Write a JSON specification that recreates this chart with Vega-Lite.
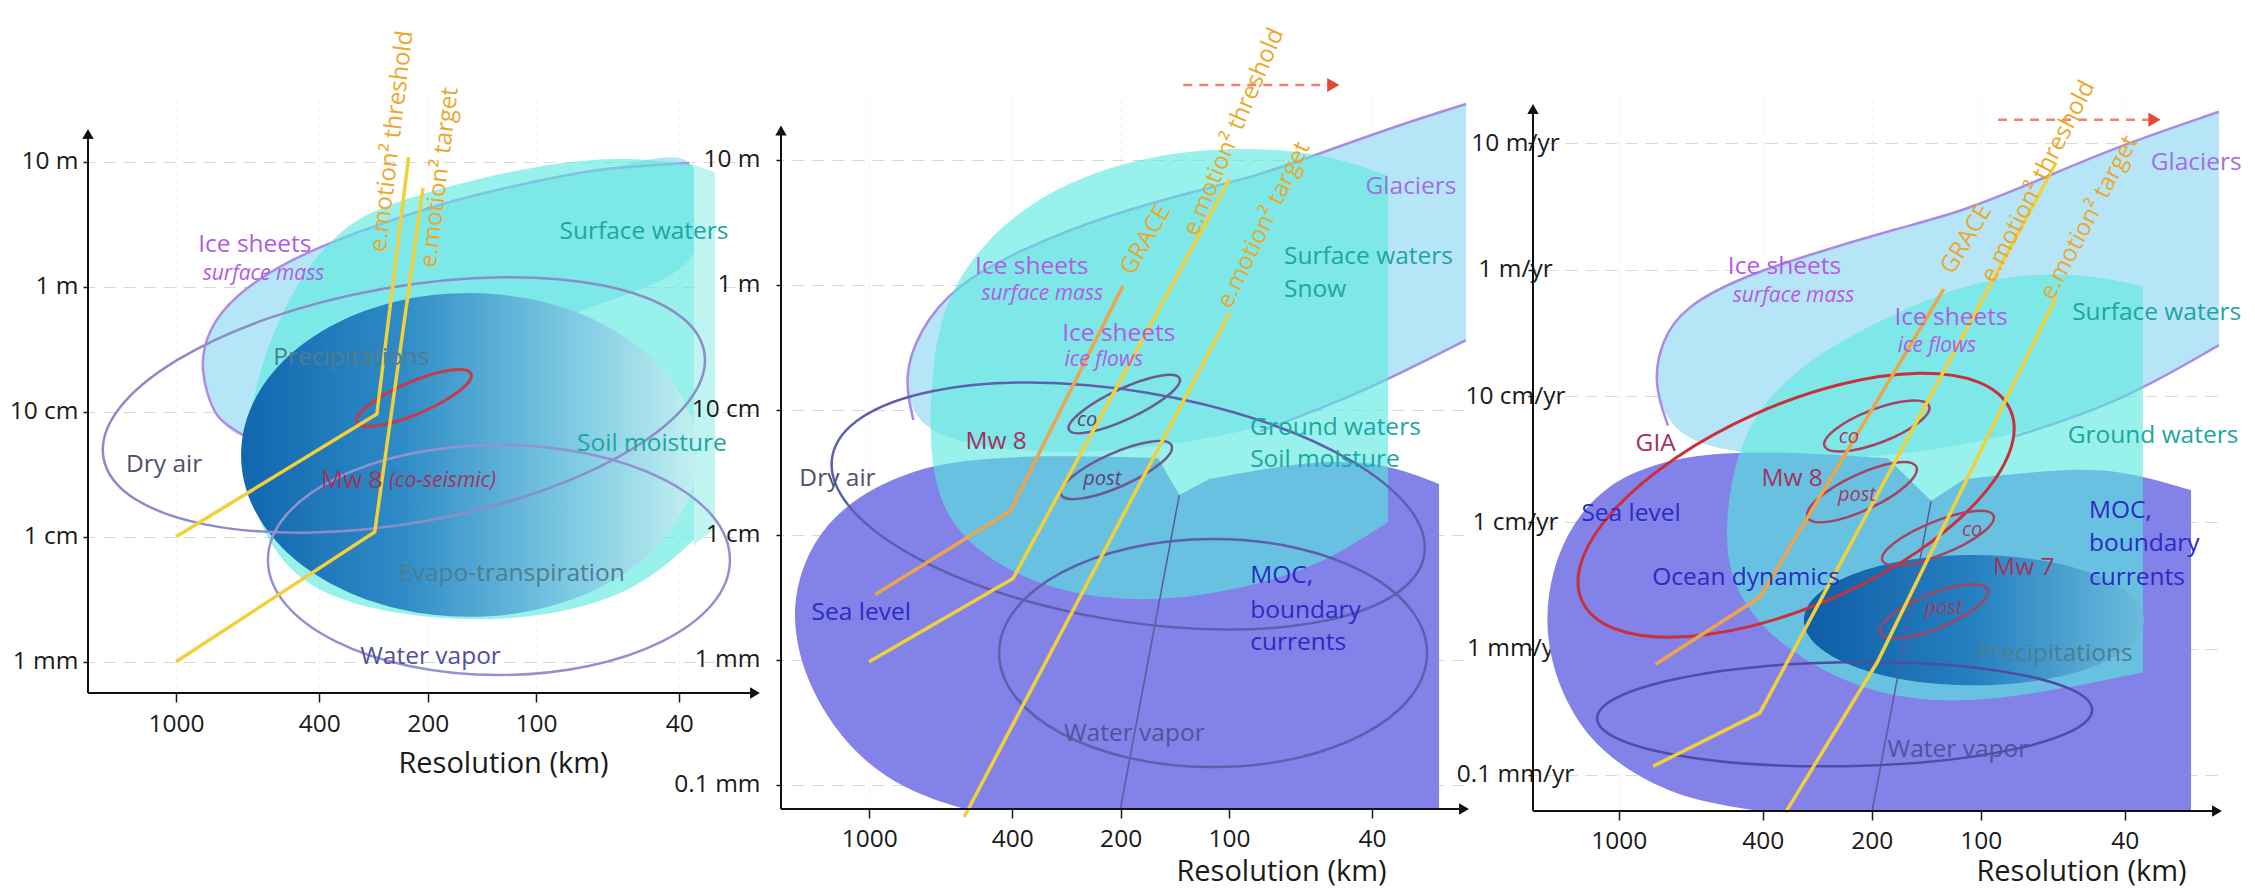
{
"$schema":"https://vega.github.io/schema/vega-lite/v6.json",
"background":"white",
"padding":{"left":9,"top":24,"right":2,"bottom":2},
"config":{
 "view":{"stroke":null},
 "font":"Open Sans",
 "axis":{"labelFont":"Open Sans","titleFont":"Open Sans","labelFontSize":24.5,"titleFontSize":29,"titleFontWeight":"normal","labelColor":"#1a1a1a","titleColor":"#1a1a1a","tickColor":"#1a1a1a","tickWidth":1.5,"domain":false,"labelOverlap":false,"grid":true,"gridColor":"#d9d9d9","gridDash":[12,8],"gridWidth":1.2},
 "text":{"font":"Open Sans"}
},
"datasets":{
 "poly":[
  {"s":"p1ice","i":0,"x":2.797,"y":-1.21,"o":"a"},
  {"s":"p1ice","i":1,"x":2.886,"y":-1.026,"o":"a"},
  {"s":"p1ice","i":2,"x":2.925,"y":-0.666,"o":"a"},
  {"s":"p1ice","i":3,"x":2.903,"y":-0.346,"o":"a"},
  {"s":"p1ice","i":4,"x":2.825,"y":-0.066,"o":"a"},
  {"s":"p1ice","i":5,"x":2.686,"y":0.198,"o":"a"},
  {"s":"p1ice","i":6,"x":2.492,"y":0.438,"o":"a"},
  {"s":"p1ice","i":7,"x":2.269,"y":0.654,"o":"a"},
  {"s":"p1ice","i":8,"x":2.047,"y":0.814,"o":"a"},
  {"s":"p1ice","i":9,"x":1.825,"y":0.934,"o":"a"},
  {"s":"p1ice","i":10,"x":1.575,"y":0.99,"o":"a"},
  {"s":"p1ice","i":11,"x":1.575,"y":0.214,"o":""},
  {"s":"p1ice","i":12,"x":1.936,"y":-0.266,"o":""},
  {"s":"p1ice","i":13,"x":2.325,"y":-0.746,"o":""},
  {"s":"p1ice","i":14,"x":2.658,"y":-1.106,"o":""},
  {"s":"p1cyan","i":0,"x":2.55,"y":0.486},
  {"s":"p1cyan","i":1,"x":2.381,"y":0.694},
  {"s":"p1cyan","i":2,"x":2.158,"y":0.87},
  {"s":"p1cyan","i":3,"x":1.936,"y":0.998},
  {"s":"p1cyan","i":4,"x":1.742,"y":1.038},
  {"s":"p1cyan","i":5,"x":1.561,"y":0.974},
  {"s":"p1cyan","i":6,"x":1.561,"y":0.974},
  {"s":"p1cyan","i":6.5,"x":1.561,"y":0.974},
  {"s":"p1cyan","i":7,"x":1.561,"y":-2.026},
  {"s":"p1cyan","i":8,"x":1.561,"y":-2.026},
  {"s":"p1cyan","i":8.5,"x":1.561,"y":-2.026},
  {"s":"p1cyan","i":9,"x":1.714,"y":-2.426},
  {"s":"p1cyan","i":10,"x":1.936,"y":-2.626},
  {"s":"p1cyan","i":11,"x":2.186,"y":-2.682},
  {"s":"p1cyan","i":12,"x":2.436,"y":-2.602},
  {"s":"p1cyan","i":13,"x":2.631,"y":-2.426},
  {"s":"p1cyan","i":14,"x":2.747,"y":-2.066},
  {"s":"p1cyan","i":15,"x":2.811,"y":-1.546},
  {"s":"p1cyan","i":16,"x":2.797,"y":-0.906},
  {"s":"p1cyan","i":17,"x":2.7,"y":-0.106},
  {"s":"p1strip","i":0,"x":1.561,"y":0.974},
  {"s":"p1strip","i":1,"x":1.503,"y":0.918},
  {"s":"p1strip","i":2,"x":1.503,"y":-1.93},
  {"s":"p1strip","i":3,"x":1.561,"y":-2.066},
  {"s":"p2gla","i":0,"x":2.877,"y":-1.084,"o":"a"},
  {"s":"p2gla","i":1,"x":2.905,"y":-0.74,"o":"a"},
  {"s":"p2gla","i":2,"x":2.861,"y":-0.364,"o":"a"},
  {"s":"p2gla","i":3,"x":2.763,"y":-0.012,"o":"a"},
  {"s":"p2gla","i":4,"x":2.583,"y":0.276,"o":"a"},
  {"s":"p2gla","i":5,"x":2.338,"y":0.556,"o":"a"},
  {"s":"p2gla","i":6,"x":2.083,"y":0.756,"o":"a"},
  {"s":"p2gla","i":7,"x":1.913,"y":0.876,"o":"a"},
  {"s":"p2gla","i":8,"x":1.722,"y":1.076,"o":"a"},
  {"s":"p2gla","i":9,"x":1.527,"y":1.276,"o":"a"},
  {"s":"p2gla","i":10,"x":1.341,"y":1.444,"o":"a"},
  {"s":"p2gla","i":11,"x":1.341,"y":1.444,"o":""},
  {"s":"p2gla","i":11.5,"x":1.341,"y":1.444,"o":""},
  {"s":"p2gla","i":12,"x":1.341,"y":-0.444,"o":""},
  {"s":"p2gla","i":12.5,"x":1.341,"y":-0.444,"o":""},
  {"s":"p2gla","i":13,"x":1.341,"y":-0.444,"o":"b"},
  {"s":"p2gla","i":14,"x":1.63,"y":-0.868,"o":"b"},
  {"s":"p2gla","i":15,"x":1.913,"y":-1.172,"o":"b"},
  {"s":"p2gla","i":16,"x":2.338,"y":-1.364,"o":""},
  {"s":"p2gla","i":17,"x":2.638,"y":-1.324,"o":""},
  {"s":"p2gla","i":18,"x":2.777,"y":-1.244,"o":""},
  {"s":"p2sea","i":0,"x":2.736,"y":-4.196},
  {"s":"p2sea","i":1,"x":2.736,"y":-4.196},
  {"s":"p2sea","i":1.5,"x":2.736,"y":-4.196},
  {"s":"p2sea","i":2,"x":2.905,"y":-4.044},
  {"s":"p2sea","i":3,"x":3.055,"y":-3.724},
  {"s":"p2sea","i":4,"x":3.166,"y":-3.244},
  {"s":"p2sea","i":5,"x":3.213,"y":-2.764},
  {"s":"p2sea","i":6,"x":3.202,"y":-2.364},
  {"s":"p2sea","i":7,"x":3.138,"y":-1.964},
  {"s":"p2sea","i":8,"x":3.027,"y":-1.684},
  {"s":"p2sea","i":9,"x":2.905,"y":-1.516},
  {"s":"p2sea","i":10,"x":2.763,"y":-1.404},
  {"s":"p2sea","i":11,"x":2.499,"y":-1.364},
  {"s":"p2sea","i":12,"x":2.197,"y":-1.388},
  {"s":"p2sea","i":13,"x":2.197,"y":-1.388},
  {"s":"p2sea","i":13.5,"x":2.197,"y":-1.388},
  {"s":"p2sea","i":14,"x":2.138,"y":-1.684},
  {"s":"p2sea","i":15,"x":2.138,"y":-1.684},
  {"s":"p2sea","i":15.5,"x":2.138,"y":-1.684},
  {"s":"p2sea","i":16,"x":2.055,"y":-1.556},
  {"s":"p2sea","i":17,"x":2.055,"y":-1.556},
  {"s":"p2sea","i":17.5,"x":2.055,"y":-1.556},
  {"s":"p2sea","i":18,"x":1.805,"y":-1.42},
  {"s":"p2sea","i":19,"x":1.588,"y":-1.404},
  {"s":"p2sea","i":20,"x":1.416,"y":-1.596},
  {"s":"p2sea","i":21,"x":1.416,"y":-1.596},
  {"s":"p2sea","i":21.5,"x":1.416,"y":-1.596},
  {"s":"p2sea","i":22,"x":1.416,"y":-4.196},
  {"s":"p2sea","i":23,"x":1.416,"y":-4.196},
  {"s":"p2sea","i":23.5,"x":1.416,"y":-4.196},
  {"s":"p2cyan","i":0,"x":2.833,"y":-0.924},
  {"s":"p2cyan","i":1,"x":2.805,"y":-0.184},
  {"s":"p2cyan","i":2,"x":2.678,"y":0.374},
  {"s":"p2cyan","i":3,"x":2.48,"y":0.804},
  {"s":"p2cyan","i":4,"x":2.197,"y":1.06},
  {"s":"p2cyan","i":5,"x":1.913,"y":1.103},
  {"s":"p2cyan","i":6,"x":1.699,"y":1.02},
  {"s":"p2cyan","i":7,"x":1.558,"y":0.868},
  {"s":"p2cyan","i":8,"x":1.558,"y":0.868},
  {"s":"p2cyan","i":8.5,"x":1.558,"y":0.868},
  {"s":"p2cyan","i":9,"x":1.558,"y":-1.9},
  {"s":"p2cyan","i":10,"x":1.558,"y":-1.9},
  {"s":"p2cyan","i":10.5,"x":1.558,"y":-1.9},
  {"s":"p2cyan","i":11,"x":1.616,"y":-2.008},
  {"s":"p2cyan","i":12,"x":1.772,"y":-2.284},
  {"s":"p2cyan","i":13,"x":2.055,"y":-2.5},
  {"s":"p2cyan","i":14,"x":2.338,"y":-2.545},
  {"s":"p2cyan","i":15,"x":2.594,"y":-2.348},
  {"s":"p2cyan","i":16,"x":2.763,"y":-1.988},
  {"s":"p2cyan","i":17,"x":2.827,"y":-1.556},
  {"s":"p3gla","i":0,"x":2.864,"y":-1.234,"o":"a"},
  {"s":"p3gla","i":1,"x":2.905,"y":-0.895,"o":"a"},
  {"s":"p3gla","i":2,"x":2.881,"y":-0.557,"o":"a"},
  {"s":"p3gla","i":3,"x":2.821,"y":-0.3,"o":"a"},
  {"s":"p3gla","i":4,"x":2.668,"y":-0.066,"o":"a"},
  {"s":"p3gla","i":5,"x":2.469,"y":0.124,"o":"a"},
  {"s":"p3gla","i":6,"x":2.226,"y":0.33,"o":"a"},
  {"s":"p3gla","i":7,"x":2.046,"y":0.465,"o":"a"},
  {"s":"p3gla","i":8,"x":1.839,"y":0.71,"o":"a"},
  {"s":"p3gla","i":9,"x":1.624,"y":0.975,"o":"a"},
  {"s":"p3gla","i":10,"x":1.342,"y":1.251,"o":"a"},
  {"s":"p3gla","i":11,"x":1.342,"y":1.251,"o":""},
  {"s":"p3gla","i":11.5,"x":1.342,"y":1.251,"o":""},
  {"s":"p3gla","i":12,"x":1.342,"y":-0.597,"o":""},
  {"s":"p3gla","i":12.5,"x":1.342,"y":-0.597,"o":""},
  {"s":"p3gla","i":13,"x":1.342,"y":-0.597,"o":"b"},
  {"s":"p3gla","i":14,"x":1.624,"y":-1.064,"o":"b"},
  {"s":"p3gla","i":15,"x":1.905,"y":-1.318,"o":"b"},
  {"s":"p3gla","i":16,"x":2.328,"y":-1.531,"o":""},
  {"s":"p3gla","i":17,"x":2.751,"y":-1.444,"o":""},
  {"s":"p3sea","i":0,"x":2.61,"y":-4.285},
  {"s":"p3sea","i":1,"x":2.61,"y":-4.285},
  {"s":"p3sea","i":1.5,"x":2.61,"y":-4.285},
  {"s":"p3sea","i":2,"x":2.806,"y":-4.201},
  {"s":"p3sea","i":3,"x":2.962,"y":-3.995},
  {"s":"p3sea","i":4,"x":3.082,"y":-3.725},
  {"s":"p3sea","i":5,"x":3.165,"y":-3.329},
  {"s":"p3sea","i":6,"x":3.206,"y":-2.854},
  {"s":"p3sea","i":7,"x":3.187,"y":-2.379},
  {"s":"p3sea","i":8,"x":3.124,"y":-1.983},
  {"s":"p3sea","i":9,"x":3.032,"y":-1.706},
  {"s":"p3sea","i":10,"x":2.916,"y":-1.547},
  {"s":"p3sea","i":11,"x":2.751,"y":-1.444},
  {"s":"p3sea","i":12,"x":2.502,"y":-1.444},
  {"s":"p3sea","i":13,"x":2.257,"y":-1.492},
  {"s":"p3sea","i":14,"x":2.257,"y":-1.492},
  {"s":"p3sea","i":14.5,"x":2.257,"y":-1.492},
  {"s":"p3sea","i":15,"x":2.137,"y":-1.829},
  {"s":"p3sea","i":16,"x":2.137,"y":-1.829},
  {"s":"p3sea","i":16.5,"x":2.137,"y":-1.829},
  {"s":"p3sea","i":17,"x":2.046,"y":-1.658},
  {"s":"p3sea","i":18,"x":2.046,"y":-1.658},
  {"s":"p3sea","i":18.5,"x":2.046,"y":-1.658},
  {"s":"p3sea","i":19,"x":1.811,"y":-1.587},
  {"s":"p3sea","i":20,"x":1.624,"y":-1.571},
  {"s":"p3sea","i":21,"x":1.419,"y":-1.745},
  {"s":"p3sea","i":22,"x":1.419,"y":-1.745},
  {"s":"p3sea","i":22.5,"x":1.419,"y":-1.745},
  {"s":"p3sea","i":23,"x":1.419,"y":-4.285},
  {"s":"p3sea","i":24,"x":1.419,"y":-4.285},
  {"s":"p3sea","i":24.5,"x":1.419,"y":-4.285},
  {"s":"p3cyan","i":0,"x":2.709,"y":-2.086},
  {"s":"p3cyan","i":1,"x":2.682,"y":-1.508},
  {"s":"p3cyan","i":2,"x":2.61,"y":-1.064},
  {"s":"p3cyan","i":3,"x":2.474,"y":-0.716},
  {"s":"p3cyan","i":4,"x":2.328,"y":-0.47},
  {"s":"p3cyan","i":5,"x":2.046,"y":-0.09},
  {"s":"p3cyan","i":6,"x":1.765,"y":-0.003},
  {"s":"p3cyan","i":7,"x":1.552,"y":-0.129},
  {"s":"p3cyan","i":8,"x":1.552,"y":-0.129},
  {"s":"p3cyan","i":8.5,"x":1.552,"y":-0.129},
  {"s":"p3cyan","i":9,"x":1.552,"y":-3.187},
  {"s":"p3cyan","i":10,"x":1.552,"y":-3.187},
  {"s":"p3cyan","i":10.5,"x":1.552,"y":-3.187},
  {"s":"p3cyan","i":11,"x":1.765,"y":-3.314},
  {"s":"p3cyan","i":12,"x":2.046,"y":-3.444},
  {"s":"p3cyan","i":13,"x":2.328,"y":-3.361},
  {"s":"p3cyan","i":14,"x":2.582,"y":-2.933},
  {"s":"p3cyan","i":15,"x":2.687,"y":-2.51}
 ],
 "ell":[
  {"s":"p1dark","x":2.186,"y":-1.346},
  {"s":"p1dry","x":2.367,"y":-0.946},
  {"s":"p1vap","x":2.103,"y":-2.186},
  {"s":"p1mw8","x":2.339,"y":-0.89},
  {"s":"p2dry","x":2.28,"y":-1.772},
  {"s":"p2moc","x":2.044,"y":-2.948},
  {"s":"p2co","x":2.291,"y":-0.956},
  {"s":"p2post","x":2.313,"y":-1.484},
  {"s":"p3pre","x":2.019,"y":-2.775},
  {"s":"p3vap","x":2.376,"y":-3.519},
  {"s":"p3gia","x":2.51,"y":-1.864},
  {"s":"p3co8","x":2.287,"y":-1.238},
  {"s":"p3post8","x":2.328,"y":-1.761},
  {"s":"p3co7","x":2.118,"y":-2.125},
  {"s":"p3post7","x":2.129,"y":-2.704}
 ],
 "lines":[
  {"s":"p1thr","i":0,"x":3.0,"y":-2.0},{"s":"p1thr","i":1,"x":2.442,"y":-1.018},{"s":"p1thr","i":2,"x":2.354,"y":1.038},
  {"s":"p1tar","i":0,"x":3.0,"y":-3.0},{"s":"p1tar","i":1,"x":2.448,"y":-1.962},{"s":"p1tar","i":2,"x":2.314,"y":0.79},
  {"s":"p2gra","i":0,"x":2.983,"y":-2.48},{"s":"p2gra","i":1,"x":2.608,"y":-1.812},{"s":"p2gra","i":2,"x":2.295,"y":-0.012},
  {"s":"p2thr","i":0,"x":3.0,"y":-3.017},{"s":"p2thr","i":1,"x":2.6,"y":-2.351},{"s":"p2thr","i":2,"x":1.998,"y":0.846},
  {"s":"p2tar","i":0,"x":2.736,"y":-4.26},{"s":"p2tar","i":1,"x":1.998,"y":-0.228},
  {"s":"p3gra","i":0,"x":2.898,"y":-3.123},{"s":"p3gra","i":1,"x":2.61,"y":-2.593},{"s":"p3gra","i":2,"x":2.102,"y":-0.153},
  {"s":"p3thr","i":0,"x":2.905,"y":-3.931},{"s":"p3thr","i":1,"x":2.61,"y":-3.508},{"s":"p3thr","i":2,"x":1.792,"y":0.847},
  {"s":"p3tar","i":0,"x":2.539,"y":-4.296},{"s":"p3tar","i":1,"x":2.285,"y":-3.104},{"s":"p3tar","i":2,"x":1.792,"y":-0.217},
  {"s":"p2v","i":0,"x":2.138,"y":-1.684},{"s":"p2v","i":1,"x":2.302,"y":-4.196},
  {"s":"p3v","i":0,"x":2.137,"y":-1.829},{"s":"p3v","i":1,"x":2.3,"y":-4.285}
 ],
 "axes":[
  {"p":1,"x":3.2445,"y":-3.2504,"x2":3.2445,"y2":1.2216},
  {"p":1,"x":3.2445,"y":-3.2504,"x2":1.3917,"y2":-3.2504},
  {"p":2,"x":3.245,"y":-4.1958,"x2":3.245,"y2":1.2322},
  {"p":2,"x":3.245,"y":-4.1958,"x2":1.3467,"y2":-4.1958},
  {"p":3,"x":3.2368,"y":-4.2854,"x2":3.2368,"y2":1.2726},
  {"p":3,"x":3.2368,"y":-4.2854,"x2":1.3473,"y2":-4.2854}
 ],
 "arr":[
  {"p":1,"x":3.2445,"y":1.2216,"sh":"up"},
  {"p":1,"x":1.3917,"y":-3.2504,"sh":"right"},
  {"p":2,"x":3.245,"y":1.2322,"sh":"up"},
  {"p":2,"x":1.3467,"y":-4.1958,"sh":"right"},
  {"p":3,"x":3.2368,"y":1.2726,"sh":"up"},
  {"p":3,"x":1.3473,"y":-4.2854,"sh":"right"}
 ],
 "red":[
  {"p":2,"x":2.127,"y":1.5962,"x2":1.72},
  {"p":3,"x":1.952,"y":1.188,"x2":1.53}
 ],
 "redhead":[
  {"p":2,"x":1.71,"y":1.5962},
  {"p":3,"x":1.52,"y":1.188}
 ],
 "ltxt":[
  {"s":"p1thr","t":"e.motion² threshold","x":2.399,"y":1.162},
  {"s":"p1tar","t":"e.motion² target","x":2.267,"y":0.874},
  {"s":"p2gra","t":"GRACE","x":2.231,"y":0.356},
  {"s":"p2thr","t":"e.motion² threshold","x":1.986,"y":1.22},
  {"s":"p2tar","t":"e.motion² target","x":1.902,"y":0.476},
  {"s":"p3gra","t":"GRACE","x":2.039,"y":0.241},
  {"s":"p3thr","t":"e.motion² threshold","x":1.841,"y":0.698},
  {"s":"p3tar","t":"e.motion² target","x":1.7,"y":0.411}
 ],
 "txt":[
  {"p":1,"g":"c","t":"Ice sheets","x":2.781,"y":0.334,"k":"ice"},
  {"p":1,"g":"i","t":"surface mass","x":2.757,"y":0.102,"k":"ice"},
  {"p":1,"g":"c","t":"Surface waters","x":1.7,"y":0.438,"k":"water"},
  {"p":1,"g":"c","t":"Precipitations","x":2.513,"y":-0.57,"k":"precip"},
  {"p":1,"g":"c","t":"Dry air","x":3.033,"y":-1.43,"k":"air"},
  {"p":1,"g":"c","t":"Soil moisture","x":1.678,"y":-1.258,"k":"water"},
  {"p":1,"g":"l","t":"Mw 8","x":2.597,"y":-1.554,"k":"quake"},
  {"p":1,"g":"il","t":"(co-seismic)","x":2.408,"y":-1.554,"k":"quake"},
  {"p":1,"g":"c","t":"Evapo-transpiration","x":2.067,"y":-2.302,"k":"precip"},
  {"p":1,"g":"c","t":"Water vapor","x":2.293,"y":-2.962,"k":"vapor"},
  {"p":2,"g":"c","t":"Glaciers","x":1.494,"y":0.78,"k":"glacier"},
  {"p":2,"g":"l","t":"Surface waters","x":1.847,"y":0.22,"k":"water"},
  {"p":2,"g":"l","t":"Snow","x":1.847,"y":-0.044,"k":"water"},
  {"p":2,"g":"c","t":"Ice sheets","x":2.548,"y":0.14,"k":"ice"},
  {"p":2,"g":"i","t":"surface mass","x":2.519,"y":-0.076,"k":"ice"},
  {"p":2,"g":"c","t":"Ice sheets","x":2.306,"y":-0.396,"k":"ice"},
  {"p":2,"g":"i","t":"ice flows","x":2.348,"y":-0.604,"k":"ice"},
  {"p":2,"g":"s","t":"co","x":2.394,"y":-1.084,"k":"co2"},
  {"p":2,"g":"s","t":"post","x":2.352,"y":-1.556,"k":"co2"},
  {"p":2,"g":"c","t":"Mw 8","x":2.647,"y":-1.26,"k":"quake"},
  {"p":2,"g":"c","t":"Dry air","x":3.088,"y":-1.556,"k":"air"},
  {"p":2,"g":"c","t":"Sea level","x":3.022,"y":-2.628,"k":"ocean"},
  {"p":2,"g":"c","t":"Ground waters","x":1.704,"y":-1.148,"k":"water"},
  {"p":2,"g":"c","t":"Soil moisture","x":1.733,"y":-1.404,"k":"water"},
  {"p":2,"g":"l","t":"MOC,","x":1.941,"y":-2.332,"k":"ocean"},
  {"p":2,"g":"l","t":"boundary","x":1.941,"y":-2.609,"k":"ocean"},
  {"p":2,"g":"l","t":"currents","x":1.941,"y":-2.868,"k":"ocean"},
  {"p":2,"g":"c","t":"Water vapor","x":2.263,"y":-3.596,"k":"vapor"},
  {"p":3,"g":"c","t":"Glaciers","x":1.405,"y":0.847,"k":"glacier"},
  {"p":3,"g":"c","t":"Ice sheets","x":2.542,"y":0.021,"k":"ice"},
  {"p":3,"g":"i","t":"surface mass","x":2.517,"y":-0.209,"k":"ice"},
  {"p":3,"g":"c","t":"Ice sheets","x":2.082,"y":-0.383,"k":"ice"},
  {"p":3,"g":"i","t":"ice flows","x":2.121,"y":-0.605,"k":"ice"},
  {"p":3,"g":"c","t":"Surface waters","x":1.514,"y":-0.343,"k":"water"},
  {"p":3,"g":"c","t":"Ground waters","x":1.524,"y":-1.318,"k":"water"},
  {"p":3,"g":"c","t":"GIA","x":2.898,"y":-1.381,"k":"quake"},
  {"p":3,"g":"c","t":"Mw 8","x":2.521,"y":-1.658,"k":"quake"},
  {"p":3,"g":"s","t":"co","x":2.364,"y":-1.325,"k":"co3"},
  {"p":3,"g":"s","t":"post","x":2.342,"y":-1.785,"k":"co3"},
  {"p":3,"g":"c","t":"Sea level","x":2.966,"y":-1.935,"k":"ocean"},
  {"p":3,"g":"s","t":"co","x":2.024,"y":-2.062,"k":"co3"},
  {"p":3,"g":"c","t":"Mw 7","x":1.881,"y":-2.361,"k":"quake"},
  {"p":3,"g":"s","t":"post","x":2.102,"y":-2.68,"k":"co3"},
  {"p":3,"g":"c","t":"Ocean dynamics","x":2.648,"y":-2.442,"k":"ocean"},
  {"p":3,"g":"l","t":"MOC,","x":1.701,"y":-1.912,"k":"ocean"},
  {"p":3,"g":"l","t":"boundary","x":1.701,"y":-2.17,"k":"ocean"},
  {"p":3,"g":"l","t":"currents","x":1.701,"y":-2.442,"k":"ocean"},
  {"p":3,"g":"c","t":"Precipitations","x":1.796,"y":-3.04,"k":"precip"},
  {"p":3,"g":"c","t":"Water vapor","x":2.063,"y":-3.805,"k":"vapor"}
 ]
},
"resolve":{"scale":{"x":"independent","y":"independent"}},
"bounds":"flush",
"spacing":26,
"hconcat":[
{
 "width":667,"height":593,
 "encoding":{
  "x":{"field":"x","type":"quantitative","scale":{"domain":[1.3917,3.2445],"reverse":true,"nice":false,"zero":false},"axis":{"title":"Resolution (km)","values":[3,2.60206,2.30103,2,1.60206],"labelExpr":"format(pow(10, datum.value), '.0f')","tickSize":9,"labelPadding":10,"titleX":415,"titleY":70,"titleAlign":"center","titleBaseline":"middle","gridColor":"#eeeeee","gridDash":[3,5]}},
  "y":{"field":"y","type":"quantitative","scale":{"domain":[-3.2504,1.4936],"nice":false,"zero":false},"axis":{"title":null,"values":[1,0,-1,-2,-3],"labelExpr":"datum.value > 0.5 ? '10 m' : datum.value > -0.5 ? '1 m' : datum.value > -1.5 ? '10 cm' : datum.value > -2.5 ? '1 cm' : datum.value > -3.5 ? '1 mm' : '0.1 mm'","tickSize":5,"labelPadding":5}}
 },
 "layer":[
  {"data":{"name":"poly"},"transform":[{"filter":"datum.s=='p1ice'"}],"mark":{"type":"line","interpolate":"cardinal-closed","fill":"#b5e6f7","strokeWidth":0,"strokeOpacity":0},"encoding":{"order":{"field":"i","type":"quantitative"}}},
  {"data":{"name":"poly"},"transform":[{"filter":"datum.s=='p1ice' && datum.o=='a'"}],"mark":{"type":"line","interpolate":"cardinal","stroke":"#b08be6","strokeWidth":2.5},"encoding":{"order":{"field":"i","type":"quantitative"}}},
  {"data":{"name":"poly"},"transform":[{"filter":"datum.s=='p1cyan'"}],"mark":{"type":"line","interpolate":"basis-closed","fill":"#5ae8df","fillOpacity":0.62,"strokeWidth":0,"strokeOpacity":0},"encoding":{"order":{"field":"i","type":"quantitative"}}},
  {"data":{"name":"poly"},"transform":[{"filter":"datum.s=='p1strip'"}],"mark":{"type":"line","interpolate":"linear-closed","fill":"#c0f4f0","strokeWidth":0,"strokeOpacity":0},"encoding":{"order":{"field":"i","type":"quantitative"}}},
  {"data":{"name":"ell"},"transform":[{"filter":"datum.s=='p1dark'"}],"mark":{"type":"point","shape":"M-1,0C-1,-0.392,-0.552,-0.71,0,-0.71C0.552,-0.71,1,-0.392,1,0C1,0.392,0.552,0.71,0,0.71C-0.552,0.71,-1,0.392,-1,0Z","size":207936,"filled":true,"opacity":1,"strokeWidth":0,"fill":{"gradient":"linear","x1":0,"y1":0,"x2":1,"y2":0,"stops":[{"offset":0,"color":"#1166ae"},{"offset":0.35,"color":"#2e8bc6"},{"offset":0.72,"color":"#7cc9e2"},{"offset":1,"color":"#c3f0f1"}]}}},
  {"data":{"name":"ell"},"transform":[{"filter":"datum.s=='p1dry'"}],"mark":{"type":"point","shape":"M-1,0C-1,-0.214,-0.552,-0.387,0,-0.387C0.552,-0.387,1,-0.214,1,0C1,0.214,0.552,0.387,0,0.387C-0.552,0.387,-1,0.214,-1,0Z","size":372100,"angle":-10,"filled":false,"opacity":1,"stroke":"#8b8dc9","strokeWidth":2.5}},
  {"data":{"name":"ell"},"transform":[{"filter":"datum.s=='p1vap'"}],"mark":{"type":"point","shape":"M-1,0C-1,-0.275,-0.552,-0.498,0,-0.498C0.552,-0.498,1,-0.275,1,0C1,0.275,0.552,0.498,0,0.498C-0.552,0.498,-1,0.275,-1,0Z","size":213444,"angle":0,"filled":false,"opacity":1,"stroke":"#9292d2","strokeWidth":2.5}},
  {"data":{"name":"ell"},"transform":[{"filter":"datum.s=='p1mw8'"}],"mark":{"type":"point","shape":"M-1,0C-1,-0.144,-0.552,-0.26,0,-0.26C0.552,-0.26,1,-0.144,1,0C1,0.144,0.552,0.26,0,0.26C-0.552,0.26,-1,0.144,-1,0Z","size":15376,"angle":-23,"filled":false,"opacity":1,"stroke":"#c63a4c","strokeWidth":3}},
  {"data":{"name":"lines"},"transform":[{"filter":"datum.s=='p1thr' || datum.s=='p1tar'"}],"mark":{"type":"line","stroke":"#f2d03b","strokeWidth":3.5},"encoding":{"order":{"field":"i","type":"quantitative"},"detail":{"field":"s"}}},
  {"data":{"name":"axes"},"transform":[{"filter":"datum.p==1"}],"mark":{"type":"rule","stroke":"#111111","strokeWidth":2},"encoding":{"x2":{"field":"x2"},"y2":{"field":"y2"}}},
  {"data":{"name":"arr"},"transform":[{"filter":"datum.p==1"}],"mark":{"type":"point","filled":true,"opacity":1,"color":"#111111","size":130},"encoding":{"shape":{"field":"sh","type":"nominal","scale":{"domain":["up","right"],"range":["triangle-up","triangle-right"]},"legend":null}}},
  {"data":{"name":"txt"},"transform":[{"filter":"datum.p==1 && datum.g=='c'"}],"mark":{"type":"text","fontSize":24.5,"align":"center","baseline":"middle"},"encoding":{"text":{"field":"t"},"color":{"field":"k","type":"nominal","scale":{"domain":["ice","water","precip","air","vapor","quake","ocean","glacier","co2","co3"],"range":["#b25be4","#1ca6a2","#4e7e8e","#4f4f70","#52529c","#a3325e","#2b2bc4","#a070e0","#5a4274","#a33a62"]},"legend":null}}},
  {"data":{"name":"txt"},"transform":[{"filter":"datum.p==1 && datum.g=='i'"}],"mark":{"type":"text","fontSize":21,"fontStyle":"italic","align":"center","baseline":"middle"},"encoding":{"text":{"field":"t"},"color":{"field":"k","type":"nominal","scale":{"domain":["ice","water","precip","air","vapor","quake","ocean","glacier","co2","co3"],"range":["#b25be4","#1ca6a2","#4e7e8e","#4f4f70","#52529c","#a3325e","#2b2bc4","#a070e0","#5a4274","#a33a62"]},"legend":null}}},
  {"data":{"name":"txt"},"transform":[{"filter":"datum.p==1 && datum.g=='l'"}],"mark":{"type":"text","fontSize":24.5,"align":"left","baseline":"middle"},"encoding":{"text":{"field":"t"},"color":{"field":"k","type":"nominal","scale":{"domain":["ice","water","precip","air","vapor","quake","ocean","glacier","co2","co3"],"range":["#b25be4","#1ca6a2","#4e7e8e","#4f4f70","#52529c","#a3325e","#2b2bc4","#a070e0","#5a4274","#a33a62"]},"legend":null}}},
  {"data":{"name":"txt"},"transform":[{"filter":"datum.p==1 && datum.g=='il'"}],"mark":{"type":"text","fontSize":21,"fontStyle":"italic","align":"left","baseline":"middle"},"encoding":{"text":{"field":"t"},"color":{"field":"k","type":"nominal","scale":{"domain":["ice","water","precip","air","vapor","quake","ocean","glacier","co2","co3"],"range":["#b25be4","#1ca6a2","#4e7e8e","#4f4f70","#52529c","#a3325e","#2b2bc4","#a070e0","#5a4274","#a33a62"]},"legend":null}}},
  {"data":{"name":"ltxt"},"transform":[{"filter":"datum.s=='p1thr' || datum.s=='p1tar'"}],"mark":{"type":"text","fontSize":24,"align":"center","baseline":"middle","angle":-83,"color":"#eaa92c"},"encoding":{"text":{"field":"t"}}}
 ]
},
{
 "bounds":"flush",
 "spacing":69,
 "resolve":{"scale":{"x":"independent","y":"independent"}},
 "hconcat":[
 {
  "width":683,"height":709,
  "encoding":{
   "x":{"field":"x","type":"quantitative","scale":{"domain":[1.3467,3.245],"reverse":true,"nice":false,"zero":false},"axis":{"title":"Resolution (km)","values":[3,2.60206,2.30103,2,1.60206],"labelExpr":"format(pow(10, datum.value), '.0f')","tickSize":9,"labelPadding":9,"titleX":500,"titleY":62,"titleAlign":"center","titleBaseline":"middle","gridColor":"#eeeeee","gridDash":[3,5]}},
   "y":{"field":"y","type":"quantitative","scale":{"domain":[-4.1958,1.4762],"nice":false,"zero":false},"axis":{"title":null,"values":[1,0,-1,-2,-3,-4],"labelExpr":"datum.value > 0.5 ? '10 m' : datum.value > -0.5 ? '1 m' : datum.value > -1.5 ? '10 cm' : datum.value > -2.5 ? '1 cm' : datum.value > -3.5 ? '1 mm' : '0.1 mm'","tickSize":5,"labelPadding":16}}
  },
  "layer":[
   {"data":{"name":"poly"},"transform":[{"filter":"datum.s=='p2gla'"}],"mark":{"type":"line","interpolate":"basis-closed","fill":"#b7e5f8","strokeWidth":0,"strokeOpacity":0},"encoding":{"order":{"field":"i","type":"quantitative"}}},
   {"data":{"name":"poly"},"transform":[{"filter":"datum.s=='p2gla' && datum.o!=''"}],"mark":{"type":"line","interpolate":"basis","stroke":"#a98ae6","strokeWidth":2.5},"encoding":{"order":{"field":"i","type":"quantitative"},"detail":{"field":"o"}}},
   {"data":{"name":"poly"},"transform":[{"filter":"datum.s=='p2sea'"}],"mark":{"type":"line","interpolate":"basis-closed","fill":"#8282e8","strokeWidth":0,"strokeOpacity":0},"encoding":{"order":{"field":"i","type":"quantitative"}}},
   {"data":{"name":"poly"},"transform":[{"filter":"datum.s=='p2cyan'"}],"mark":{"type":"line","interpolate":"basis-closed","fill":"#5ae8df","fillOpacity":0.62,"strokeWidth":0,"strokeOpacity":0},"encoding":{"order":{"field":"i","type":"quantitative"}}},
   {"data":{"name":"lines"},"transform":[{"filter":"datum.s=='p2v'"}],"mark":{"type":"line","stroke":"#5a5a9a","strokeWidth":1.5},"encoding":{"order":{"field":"i","type":"quantitative"}}},
   {"data":{"name":"ell"},"transform":[{"filter":"datum.s=='p2dry'"}],"mark":{"type":"point","shape":"M-1,0C-1,-0.212,-0.552,-0.383,0,-0.383C0.552,-0.383,1,-0.212,1,0C1,0.212,0.552,0.383,0,0.383C-0.552,0.383,-1,0.212,-1,0Z","size":360000,"angle":9.4,"filled":false,"opacity":1,"stroke":"#5d5fae","strokeWidth":2.5}},
   {"data":{"name":"ell"},"transform":[{"filter":"datum.s=='p2moc'"}],"mark":{"type":"point","shape":"M-1,0C-1,-0.294,-0.552,-0.533,0,-0.533C0.552,-0.533,1,-0.294,1,0C1,0.294,0.552,0.533,0,0.533C-0.552,0.533,-1,0.294,-1,0Z","size":183184,"angle":0,"filled":false,"opacity":1,"stroke":"#5d5fae","strokeWidth":2.5}},
   {"data":{"name":"ell"},"transform":[{"filter":"datum.s=='p2co'"}],"mark":{"type":"point","shape":"M-1,0C-1,-0.138,-0.552,-0.25,0,-0.25C0.552,-0.25,1,-0.138,1,0C1,0.138,0.552,0.25,0,0.25C-0.552,0.25,-1,0.138,-1,0Z","size":14884,"angle":-25,"filled":false,"opacity":1,"stroke":"#6d5a8e","strokeWidth":2.5}},
   {"data":{"name":"ell"},"transform":[{"filter":"datum.s=='p2post'"}],"mark":{"type":"point","shape":"M-1,0C-1,-0.155,-0.552,-0.28,0,-0.28C0.552,-0.28,1,-0.155,1,0C1,0.155,0.552,0.28,0,0.28C-0.552,0.28,-1,0.155,-1,0Z","size":14641,"angle":-24,"filled":false,"opacity":1,"stroke":"#6d5a8e","strokeWidth":2.5}},
   {"data":{"name":"lines"},"transform":[{"filter":"datum.s=='p2gra'"}],"mark":{"type":"line","stroke":"#efa44a","strokeWidth":3.5},"encoding":{"order":{"field":"i","type":"quantitative"}}},
   {"data":{"name":"lines"},"transform":[{"filter":"datum.s=='p2thr' || datum.s=='p2tar'"}],"mark":{"type":"line","stroke":"#f2d03b","strokeWidth":3.5},"encoding":{"order":{"field":"i","type":"quantitative"},"detail":{"field":"s"}}},
   {"data":{"name":"axes"},"transform":[{"filter":"datum.p==2"}],"mark":{"type":"rule","stroke":"#111111","strokeWidth":2},"encoding":{"x2":{"field":"x2"},"y2":{"field":"y2"}}},
   {"data":{"name":"arr"},"transform":[{"filter":"datum.p==2"}],"mark":{"type":"point","filled":true,"opacity":1,"color":"#111111","size":130},"encoding":{"shape":{"field":"sh","type":"nominal","scale":{"domain":["up","right"],"range":["triangle-up","triangle-right"]},"legend":null}}},
   {"data":{"name":"red"},"transform":[{"filter":"datum.p==2"}],"mark":{"type":"rule","stroke":"#ef8270","strokeWidth":2.5,"strokeDash":[9,7]},"encoding":{"x2":{"field":"x2"}}},
   {"data":{"name":"redhead"},"transform":[{"filter":"datum.p==2"}],"mark":{"type":"point","shape":"triangle-right","filled":true,"opacity":1,"color":"#e24a33","size":200}},
   {"data":{"name":"txt"},"transform":[{"filter":"datum.p==2 && datum.g=='c'"}],"mark":{"type":"text","fontSize":24.5,"align":"center","baseline":"middle"},"encoding":{"text":{"field":"t"},"color":{"field":"k","type":"nominal","scale":{"domain":["ice","water","precip","air","vapor","quake","ocean","glacier","co2","co3"],"range":["#b25be4","#1ca6a2","#4e7e8e","#4f4f70","#52529c","#a3325e","#2b2bc4","#a070e0","#5a4274","#a33a62"]},"legend":null}}},
   {"data":{"name":"txt"},"transform":[{"filter":"datum.p==2 && datum.g=='i'"}],"mark":{"type":"text","fontSize":21,"fontStyle":"italic","align":"center","baseline":"middle"},"encoding":{"text":{"field":"t"},"color":{"field":"k","type":"nominal","scale":{"domain":["ice","water","precip","air","vapor","quake","ocean","glacier","co2","co3"],"range":["#b25be4","#1ca6a2","#4e7e8e","#4f4f70","#52529c","#a3325e","#2b2bc4","#a070e0","#5a4274","#a33a62"]},"legend":null}}},
   {"data":{"name":"txt"},"transform":[{"filter":"datum.p==2 && datum.g=='l'"}],"mark":{"type":"text","fontSize":24.5,"align":"left","baseline":"middle"},"encoding":{"text":{"field":"t"},"color":{"field":"k","type":"nominal","scale":{"domain":["ice","water","precip","air","vapor","quake","ocean","glacier","co2","co3"],"range":["#b25be4","#1ca6a2","#4e7e8e","#4f4f70","#52529c","#a3325e","#2b2bc4","#a070e0","#5a4274","#a33a62"]},"legend":null}}},
   {"data":{"name":"txt"},"transform":[{"filter":"datum.p==2 && datum.g=='s'"}],"mark":{"type":"text","fontSize":20,"fontStyle":"italic","align":"center","baseline":"middle"},"encoding":{"text":{"field":"t"},"color":{"field":"k","type":"nominal","scale":{"domain":["ice","water","precip","air","vapor","quake","ocean","glacier","co2","co3"],"range":["#b25be4","#1ca6a2","#4e7e8e","#4f4f70","#52529c","#a3325e","#2b2bc4","#a070e0","#5a4274","#a33a62"]},"legend":null}}},
   {"data":{"name":"ltxt"},"transform":[{"filter":"datum.s=='p2gra'"}],"mark":{"type":"text","fontSize":24,"align":"center","baseline":"middle","angle":-60,"color":"#eaa92c"},"encoding":{"text":{"field":"t"}}},
   {"data":{"name":"ltxt"},"transform":[{"filter":"datum.s=='p2thr'"}],"mark":{"type":"text","fontSize":24,"align":"center","baseline":"middle","angle":-67,"color":"#eaa92c"},"encoding":{"text":{"field":"t"}}},
   {"data":{"name":"ltxt"},"transform":[{"filter":"datum.s=='p2tar'"}],"mark":{"type":"text","fontSize":24,"align":"center","baseline":"middle","angle":-64,"color":"#eaa92c"},"encoding":{"text":{"field":"t"}}}
  ]
 },
 {
  "width":684,"height":711,
  "encoding":{
   "x":{"field":"x","type":"quantitative","scale":{"domain":[1.3473,3.2368],"reverse":true,"nice":false,"zero":false},"axis":{"title":"Resolution (km)","values":[3,2.60206,2.30103,2,1.60206],"labelExpr":"format(pow(10, datum.value), '.0f')","tickSize":9,"labelPadding":9,"titleX":548,"titleY":60,"titleAlign":"center","titleBaseline":"middle","gridColor":"#eeeeee","gridDash":[3,5]}},
   "y":{"field":"y","type":"quantitative","scale":{"domain":[-4.2854,1.3439],"nice":false,"zero":false},"axis":{"title":null,"values":[1,0,-1,-2,-3,-4],"labelExpr":"datum.value > 0.5 ? '10 m/yr' : datum.value > -0.5 ? '1 m/yr' : datum.value > -1.5 ? '10 cm/yr' : datum.value > -2.5 ? '1 cm/yr' : datum.value > -3.5 ? '1 mm/yr' : '0.1 mm/yr'","tickSize":5,"labelPadding":13,"labelAlign":"center"}}
  },
  "layer":[
   {"data":{"name":"poly"},"transform":[{"filter":"datum.s=='p3gla'"}],"mark":{"type":"line","interpolate":"basis-closed","fill":"#b7e5f8","strokeWidth":0,"strokeOpacity":0},"encoding":{"order":{"field":"i","type":"quantitative"}}},
   {"data":{"name":"poly"},"transform":[{"filter":"datum.s=='p3gla' && datum.o!=''"}],"mark":{"type":"line","interpolate":"basis","stroke":"#a98ae6","strokeWidth":2.5},"encoding":{"order":{"field":"i","type":"quantitative"},"detail":{"field":"o"}}},
   {"data":{"name":"poly"},"transform":[{"filter":"datum.s=='p3sea'"}],"mark":{"type":"line","interpolate":"basis-closed","fill":"#8282e8","strokeWidth":0,"strokeOpacity":0},"encoding":{"order":{"field":"i","type":"quantitative"}}},
   {"data":{"name":"poly"},"transform":[{"filter":"datum.s=='p3cyan'"}],"mark":{"type":"line","interpolate":"basis-closed","fill":"#5ae8df","fillOpacity":0.62,"strokeWidth":0,"strokeOpacity":0},"encoding":{"order":{"field":"i","type":"quantitative"}}},
   {"data":{"name":"ell"},"transform":[{"filter":"datum.s=='p3pre'"}],"mark":{"type":"point","shape":"M-1,0C-1,-0.212,-0.552,-0.383,0,-0.383C0.552,-0.383,1,-0.212,1,0C1,0.212,0.552,0.383,0,0.383C-0.552,0.383,-1,0.212,-1,0Z","size":115600,"filled":true,"opacity":1,"strokeWidth":0,"fill":{"gradient":"linear","x1":0,"y1":0,"x2":1,"y2":0,"stops":[{"offset":0,"color":"#0f5ea6"},{"offset":0.5,"color":"#2580c0"},{"offset":1,"color":"#6cbcdc"}]}}},
   {"data":{"name":"lines"},"transform":[{"filter":"datum.s=='p3v'"}],"mark":{"type":"line","stroke":"#5a5a9a","strokeWidth":1.5},"encoding":{"order":{"field":"i","type":"quantitative"}}},
   {"data":{"name":"ell"},"transform":[{"filter":"datum.s=='p3vap'"}],"mark":{"type":"point","shape":"M-1,0C-1,-0.116,-0.552,-0.21,0,-0.21C0.552,-0.21,1,-0.116,1,0C1,0.116,0.552,0.21,0,0.21C-0.552,0.21,-1,0.116,-1,0Z","size":245025,"angle":-1,"filled":false,"opacity":1,"stroke":"#4d4da5","strokeWidth":2.5}},
   {"data":{"name":"ell"},"transform":[{"filter":"datum.s=='p3gia'"}],"mark":{"type":"point","shape":"M-1,0C-1,-0.235,-0.552,-0.426,0,-0.426C0.552,-0.426,1,-0.235,1,0C1,0.235,0.552,0.426,0,0.426C-0.552,0.426,-1,0.235,-1,0Z","size":219961,"angle":-24,"filled":false,"opacity":1,"stroke":"#c8303c","strokeWidth":3}},
   {"data":{"name":"ell"},"transform":[{"filter":"datum.s=='p3co8'"}],"mark":{"type":"point","shape":"M-1,0C-1,-0.166,-0.552,-0.3,0,-0.3C0.552,-0.3,1,-0.166,1,0C1,0.166,0.552,0.3,0,0.3C-0.552,0.3,-1,0.166,-1,0Z","size":12544,"angle":-21,"filled":false,"opacity":1,"stroke":"#a84262","strokeWidth":2.5}},
   {"data":{"name":"ell"},"transform":[{"filter":"datum.s=='p3post8'"}],"mark":{"type":"point","shape":"M-1,0C-1,-0.166,-0.552,-0.3,0,-0.3C0.552,-0.3,1,-0.166,1,0C1,0.166,0.552,0.3,0,0.3C-0.552,0.3,-1,0.166,-1,0Z","size":14400,"angle":-25,"filled":false,"opacity":1,"stroke":"#a84262","strokeWidth":2.5}},
   {"data":{"name":"ell"},"transform":[{"filter":"datum.s=='p3co7'"}],"mark":{"type":"point","shape":"M-1,0C-1,-0.155,-0.552,-0.28,0,-0.28C0.552,-0.28,1,-0.155,1,0C1,0.155,0.552,0.28,0,0.28C-0.552,0.28,-1,0.155,-1,0Z","size":14400,"angle":-22,"filled":false,"opacity":1,"stroke":"#a84262","strokeWidth":2.5}},
   {"data":{"name":"ell"},"transform":[{"filter":"datum.s=='p3post7'"}],"mark":{"type":"point","shape":"M-1,0C-1,-0.166,-0.552,-0.3,0,-0.3C0.552,-0.3,1,-0.166,1,0C1,0.166,0.552,0.3,0,0.3C-0.552,0.3,-1,0.166,-1,0Z","size":13456,"angle":-22,"filled":false,"opacity":1,"stroke":"#a84262","strokeWidth":2.5}},
   {"data":{"name":"lines"},"transform":[{"filter":"datum.s=='p3gra'"}],"mark":{"type":"line","stroke":"#efa44a","strokeWidth":3.5},"encoding":{"order":{"field":"i","type":"quantitative"}}},
   {"data":{"name":"lines"},"transform":[{"filter":"datum.s=='p3thr' || datum.s=='p3tar'"}],"mark":{"type":"line","stroke":"#f2d03b","strokeWidth":3.5},"encoding":{"order":{"field":"i","type":"quantitative"},"detail":{"field":"s"}}},
   {"data":{"name":"axes"},"transform":[{"filter":"datum.p==3"}],"mark":{"type":"rule","stroke":"#111111","strokeWidth":2},"encoding":{"x2":{"field":"x2"},"y2":{"field":"y2"}}},
   {"data":{"name":"arr"},"transform":[{"filter":"datum.p==3"}],"mark":{"type":"point","filled":true,"opacity":1,"color":"#111111","size":130},"encoding":{"shape":{"field":"sh","type":"nominal","scale":{"domain":["up","right"],"range":["triangle-up","triangle-right"]},"legend":null}}},
   {"data":{"name":"red"},"transform":[{"filter":"datum.p==3"}],"mark":{"type":"rule","stroke":"#ef8270","strokeWidth":2.5,"strokeDash":[9,7]},"encoding":{"x2":{"field":"x2"}}},
   {"data":{"name":"redhead"},"transform":[{"filter":"datum.p==3"}],"mark":{"type":"point","shape":"triangle-right","filled":true,"opacity":1,"color":"#e24a33","size":200}},
   {"data":{"name":"txt"},"transform":[{"filter":"datum.p==3 && datum.g=='c'"}],"mark":{"type":"text","fontSize":24.5,"align":"center","baseline":"middle"},"encoding":{"text":{"field":"t"},"color":{"field":"k","type":"nominal","scale":{"domain":["ice","water","precip","air","vapor","quake","ocean","glacier","co2","co3"],"range":["#b25be4","#1ca6a2","#4e7e8e","#4f4f70","#52529c","#a3325e","#2b2bc4","#a070e0","#5a4274","#a33a62"]},"legend":null}}},
   {"data":{"name":"txt"},"transform":[{"filter":"datum.p==3 && datum.g=='i'"}],"mark":{"type":"text","fontSize":21,"fontStyle":"italic","align":"center","baseline":"middle"},"encoding":{"text":{"field":"t"},"color":{"field":"k","type":"nominal","scale":{"domain":["ice","water","precip","air","vapor","quake","ocean","glacier","co2","co3"],"range":["#b25be4","#1ca6a2","#4e7e8e","#4f4f70","#52529c","#a3325e","#2b2bc4","#a070e0","#5a4274","#a33a62"]},"legend":null}}},
   {"data":{"name":"txt"},"transform":[{"filter":"datum.p==3 && datum.g=='l'"}],"mark":{"type":"text","fontSize":24.5,"align":"left","baseline":"middle"},"encoding":{"text":{"field":"t"},"color":{"field":"k","type":"nominal","scale":{"domain":["ice","water","precip","air","vapor","quake","ocean","glacier","co2","co3"],"range":["#b25be4","#1ca6a2","#4e7e8e","#4f4f70","#52529c","#a3325e","#2b2bc4","#a070e0","#5a4274","#a33a62"]},"legend":null}}},
   {"data":{"name":"txt"},"transform":[{"filter":"datum.p==3 && datum.g=='s'"}],"mark":{"type":"text","fontSize":20,"fontStyle":"italic","align":"center","baseline":"middle"},"encoding":{"text":{"field":"t"},"color":{"field":"k","type":"nominal","scale":{"domain":["ice","water","precip","air","vapor","quake","ocean","glacier","co2","co3"],"range":["#b25be4","#1ca6a2","#4e7e8e","#4f4f70","#52529c","#a3325e","#2b2bc4","#a070e0","#5a4274","#a33a62"]},"legend":null}}},
   {"data":{"name":"ltxt"},"transform":[{"filter":"datum.s=='p3gra'"}],"mark":{"type":"text","fontSize":24,"align":"center","baseline":"middle","angle":-59,"color":"#eaa92c"},"encoding":{"text":{"field":"t"}}},
   {"data":{"name":"ltxt"},"transform":[{"filter":"datum.s=='p3thr'"}],"mark":{"type":"text","fontSize":24,"align":"center","baseline":"middle","angle":-63,"color":"#eaa92c"},"encoding":{"text":{"field":"t"}}},
   {"data":{"name":"ltxt"},"transform":[{"filter":"datum.s=='p3tar'"}],"mark":{"type":"text","fontSize":24,"align":"center","baseline":"middle","angle":-62,"color":"#eaa92c"},"encoding":{"text":{"field":"t"}}}
  ]
 }
 ]
}
]
}
